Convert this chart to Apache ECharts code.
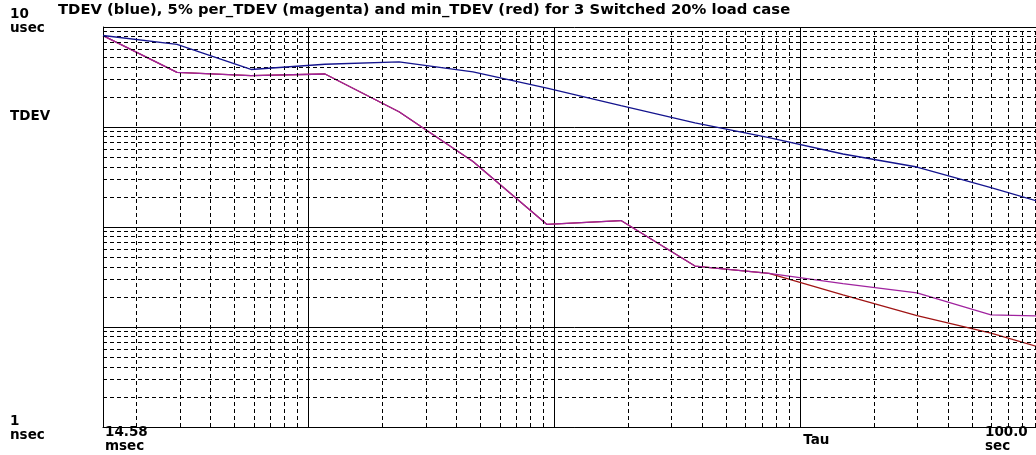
<!DOCTYPE html>
<html>
<head>
<meta charset="utf-8">
<script src="https://cdn.jsdelivr.net/npm/echarts@6/dist/echarts.min.js"></script>
<style>
html,body{margin:0;padding:0;background:#fff;overflow:hidden;}
#c{width:1046px;height:455px;}
</style>
</head>
<body>
<div id="c"></div>
<script>
// Tau values (seconds)
const tau = [0.01458, 0.02916, 0.05832, 0.11664, 0.23328, 0.46656, 0.93312, 1.86624, 3.73248, 7.46496, 14.92992, 29.85984, 59.71968, 119.43936];
// TDEV values (nanoseconds)
const tdevBlue = [8220, 6710, 3760, 4240, 4470, 3550, 2450, 1640, 1100, 785, 537, 398, 248, 151];
const perTdevMagenta = [8200, 3520, 3260, 3390, 1420, 452, 106, 116, 40.7, 34.3, 27.2, 21.9, 13.2, 12.7];
const minTdevRed = [8200, 3520, 3260, 3390, 1420, 452, 106, 116, 40.7, 34.3, 20.9, 13.0, 8.7, 5.3];

// axis range
const xMin = 0.01458, xMax = 100;
const yMin = 1, yMax = 10000;

// minor grid lines
const xMinor = [0.02,0.03,0.04,0.05,0.06,0.07,0.08,0.09,0.2,0.3,0.4,0.5,0.6,0.7,0.8,0.9,2,3,4,5,6,7,8,9,20,30,40,50,60,70,80,90];
const yMinor = [2,3,4,5,6,7,8,9,20,30,40,50,60,70,80,90,200,300,400,500,600,700,800,900,2000,3000,4000,5000,6000,7000,8000,9000];

// texts
const titleText = 'TDEV (blue), 5% per_TDEV (magenta) and min_TDEV (red) for 3 Switched 20% load case';
const yTopLabel = ['10', 'usec'];
const yBottomLabel = ['1', 'nsec'];
const yAxisName = 'TDEV';
const xLeftLabel = ['14.58', 'msec'];
const xRightLabel = ['100.0', 'sec'];
const xAxisName = 'Tau';

const FONT = 'DejaVu Sans';
const chart = echarts.init(document.getElementById('c'));

function pairs(xs, ys){ return xs.map((x,i)=>[x, ys[i]]); }

const option = {
  backgroundColor: '#fff',
  animation: false,
  title: {
    text: titleText, left: 53, top: -2,
    textStyle: {fontFamily: FONT, fontWeight: 'bold', fontSize: 14.8, color: '#000'}
  },
  grid: {left: 103, right: 0, top: 27, bottom: 28, containLabel: false},
  xAxis: {
    type: 'log', logBase: 10, min: xMin, max: xMax,
    axisLine: {show: true, lineStyle: {color: '#000', width: 1}},
    axisTick: {show: false}, axisLabel: {show: false},
    splitLine: {show: true, lineStyle: {color: '#000', width: 1, type: 'solid'}},
    minorSplitLine: {show: false}
  },
  yAxis: {
    type: 'log', logBase: 10, min: yMin, max: yMax,
    axisLine: {show: true, lineStyle: {color: '#000', width: 1}},
    axisTick: {show: false}, axisLabel: {show: false},
    splitLine: {show: true, lineStyle: {color: '#000', width: 1, type: 'solid'}}
  },
  series: [
    {
      name: 'grid', type: 'line', data: [], silent: true,
      markLine: {
        silent: true, symbol: ['none','none'], label: {show: false},
        lineStyle: {color: '#000', width: 1, type: [4,3]},
        emphasis: {disabled: true},
        data: xMinor.map(v=>({xAxis: v})).concat(yMinor.map(v=>({yAxis: v})))
      }
    },
    {
      name: 'min_TDEV', type: 'line', data: pairs(tau, minTdevRed),
      showSymbol: false, clip: true, lineStyle: {color: '#a01414', width: 1.3}, z: 3
    },
    {
      name: '5% per_TDEV', type: 'line', data: pairs(tau, perTdevMagenta),
      showSymbol: false, clip: true, lineStyle: {color: '#a0239f', width: 1.3}, z: 4
    },
    {
      name: 'TDEV', type: 'line', data: pairs(tau, tdevBlue),
      showSymbol: false, clip: true, lineStyle: {color: '#14148e', width: 1.3}, z: 5
    }
  ]
};
chart.setOption(option);

const pTop = chart.convertToPixel({gridIndex: 0}, [xMin, yMax]);
const pBot = chart.convertToPixel({gridIndex: 0}, [xMax, yMin]);
const pTau = chart.convertToPixel({gridIndex: 0}, [10, yMin]);
const pMid = chart.convertToPixel({gridIndex: 0}, [xMin, 1000]);
const ts = {fontFamily: FONT, fontWeight: 'bold', fontSize: 13.5, fill: '#000', lineHeight: 14};
function txt(x, y, s, va){ return {type: 'text', x: x, y: y, style: Object.assign({text: s, textVerticalAlign: va || 'top'}, ts)}; }
chart.setOption({
  graphic: [
    txt(10, pTop[1] - 20, yTopLabel.join('\n')),
    txt(10, pMid[1] - 18, yAxisName),
    txt(10, pBot[1] - 13, yBottomLabel.join('\n')),
    txt(pTop[0] + 2, pBot[1] - 2, xLeftLabel.join('\n')),
    txt(pTau[0] + 3, pBot[1] + 6, xAxisName),
    txt(pBot[0] - 61, pBot[1] - 2, xRightLabel.join('\n'))
  ]
});
</script>
</body>
</html>
